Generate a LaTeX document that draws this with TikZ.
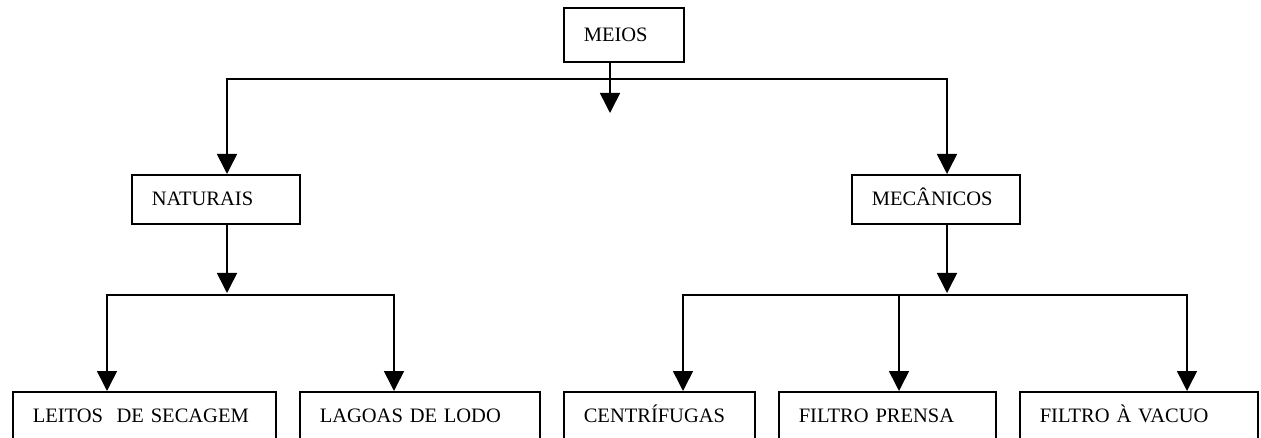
\documentclass[tikz,border=0pt]{standalone}
\usepackage{fontspec}
\setmainfont{Liberation Serif}
\usetikzlibrary{arrows.meta}
\begin{document}
\begin{tikzpicture}[x=1pt,y=-1pt,
  box/.style={draw, line width=1.6pt, inner xsep=20pt, inner ysep=0pt, align=left,
    text height=15.5pt, text depth=2.5pt,
    font=\fontsize{20.5}{24}\selectfont, anchor=north west},
  conn/.style={line width=1.6pt, line join=miter},
  arr/.style={conn, -{Triangle[width=20pt,length=20pt]}}]
\useasboundingbox (0,0) rectangle (1261,438);
\clip (0,0) rectangle (1261,438);
% boxes
\node[box, text width=80pt, minimum height=54pt] (meios) at (563,7) {MEIOS};
\node[box, text width=128pt, minimum height=49pt] (naturais) at (131,174) {NATURAIS};
\node[box, text width=128pt, minimum height=49pt] (mecanicos) at (851,174) {MECÂNICOS};
\node[box, text width=223pt, minimum height=49pt] (leitos) at (12,391) {LEITOS\ \ DE SECAGEM};
\node[box, text width=200pt, minimum height=49pt] (lagoas) at (299,391) {LAGOAS DE LODO};
\node[box, text width=151pt, minimum height=49pt] (centrifugas) at (563,391) {CENTRÍFUGAS};
\node[box, text width=177pt, minimum height=49pt] (prensa) at (778,391) {FILTRO PRENSA};
\node[box, text width=198pt, minimum height=49pt] (vacuo) at (1019,391) {FILTRO À VACUO};
% level 1
\coordinate (m0) at (610,113);
\coordinate (hl) at (227,79);
\coordinate (hr) at (947,79);
\draw[arr] (meios.south -| m0) -- (m0);
\draw[arr] (hr) -- (hl) -- (naturais.north -| hl);
\draw[arr] (hl) -- (hr) -- (mecanicos.north -| hr);
% naturais branch
\coordinate (n1) at (227,293);
\coordinate (nl) at (107,295);
\coordinate (nr) at (394,295);
\draw[arr] (naturais.south -| n1) -- (n1);
\draw[arr] (nr) -- (nl) -- (leitos.north -| nl);
\draw[arr] (nl) -- (nr) -- (lagoas.north -| nr);
% mecanicos branch
\coordinate (c1) at (947,293);
\coordinate (ml) at (683,295);
\coordinate (mm) at (899,295);
\coordinate (mr) at (1187,295);
\draw[arr] (mecanicos.south -| c1) -- (c1);
\draw[arr] (mr) -- (ml) -- (centrifugas.north -| ml);
\draw[arr] (mm) -- (prensa.north -| mm);
\draw[arr] (ml) -- (mr) -- (vacuo.north -| mr);
\end{tikzpicture}
\end{document}
